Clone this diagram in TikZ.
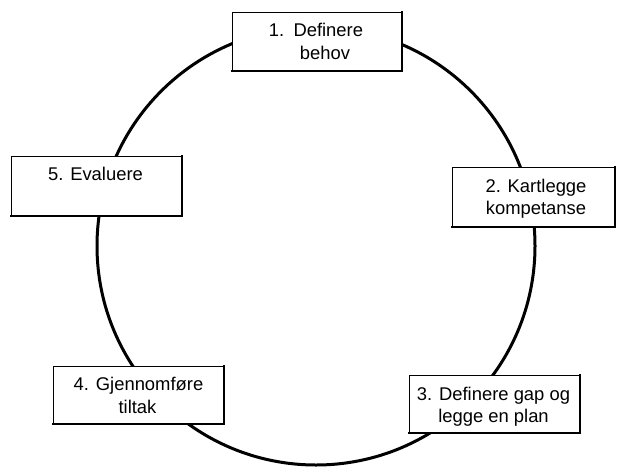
\documentclass[tikz,border=0pt]{standalone}
\usepackage{fontspec}
\setmainfont{Liberation Sans}
\begin{document}
\begin{tikzpicture}[x=1pt,y=-1pt,
  stepbox/.style={draw=black, fill=white, line width=1pt, rectangle,
    inner sep=0pt, outer sep=0pt},
  lbl/.style={anchor=base, inner sep=0pt, font=\fontsize{18.4}{22}\selectfont},
  edge/.style={line width=2.2pt, line cap=rect}]
\useasboundingbox (0,0) rectangle (617,466);

% the cycle
\draw[line width=3pt] (316,246) circle (219pt);

% boxes on the cycle
\node[stepbox, minimum width=170pt, minimum height=59pt] (b1) at (317,41.5) {};
\node[stepbox, minimum width=163pt, minimum height=60pt] (b2) at (533.5,197) {};
\node[stepbox, minimum width=171pt, minimum height=58pt] (b3) at (494.5,404) {};
\node[stepbox, minimum width=171pt, minimum height=58pt] (b4) at (138.5,395) {};
\node[stepbox, minimum width=171pt, minimum height=60pt] (b5) at (96.5,186) {};

% heavier right and bottom edges
\foreach \b in {b1,b2,b3,b4,b5}
  \draw[edge] (\b.north east) -- (\b.south east) -- (\b.south west);

% labels
\node[lbl] (t1a) at (316,36) {1.\enspace Definere};
\node[lbl] (t1b) at (325,59) {behov};
\node[lbl] (t2a) at (536,192) {2. Kartlegge};
\node[lbl] (t2b) at (536,214) {kompetanse};
\node[lbl] (t3a) at (493.5,400) {3. Definere gap og};
\node[lbl] (t3b) at (493.5,422) {legge en plan};
\node[lbl] (t4a) at (138.5,390) {4. Gjennomføre};
\node[lbl] (t4b) at (137.5,413) {tiltak};
\node[lbl] (t5a) at (95.5,180) {5. Evaluere};
\end{tikzpicture}
\end{document}
